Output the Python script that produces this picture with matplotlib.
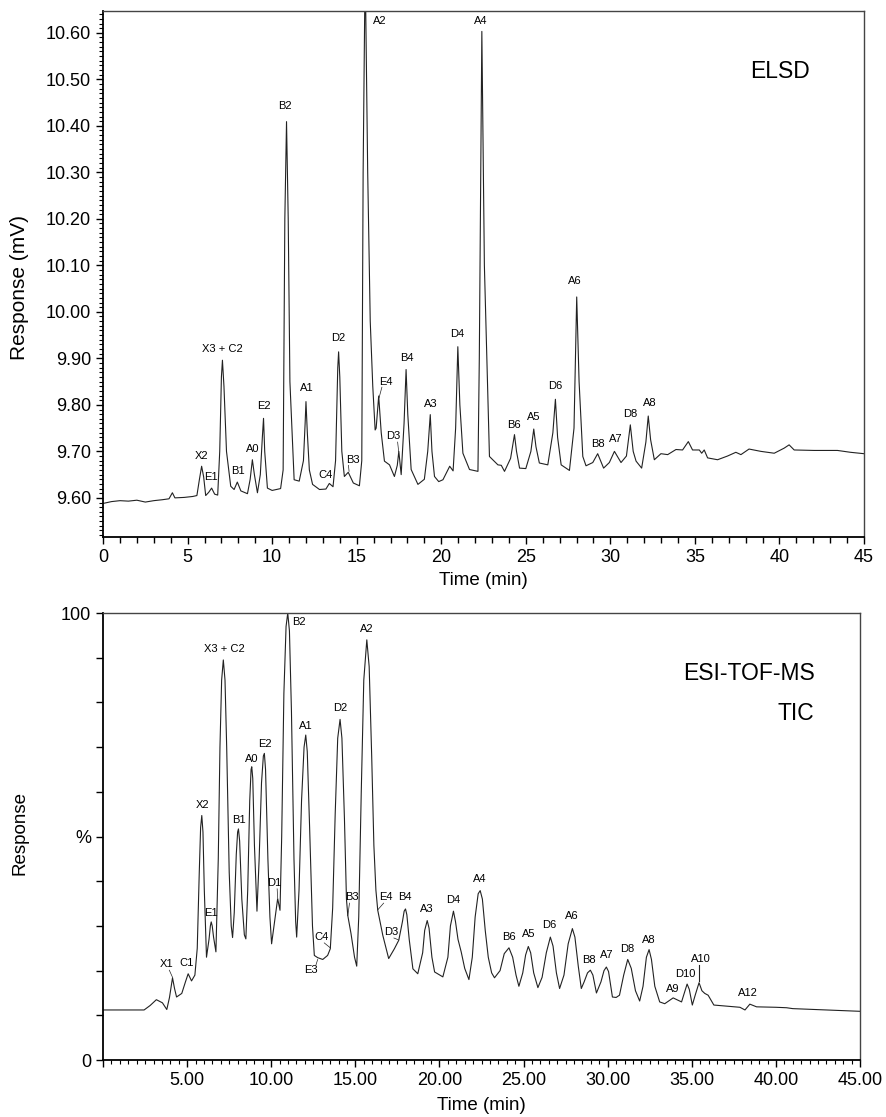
import numpy as np
import matplotlib
matplotlib.use('Agg')
import matplotlib.pyplot as plt
from matplotlib.ticker import MultipleLocator, FixedLocator, FixedFormatter

plt.rcParams['font.family'] = ['Liberation Sans', 'DejaVu Sans']

# ELSD trace (time min, response mV)
elsd_t = [0.0, 0.5, 1.0, 1.5, 2.0, 2.5, 3.0, 3.5, 3.9, 4.1, 4.25, 4.8, 5.3, 5.55, 5.7, 5.83, 5.95, 6.07,
          6.25, 6.42, 6.6, 6.78, 6.9, 7.0, 7.06, 7.15, 7.3, 7.55, 7.75, 7.94, 8.15, 8.54, 8.7, 8.83, 8.95,
          9.13, 9.3, 9.42, 9.49, 9.56, 9.72, 10.0, 10.5, 10.65, 10.75, 10.85, 10.95, 11.05, 11.3, 11.6,
          11.85, 11.95, 12.0, 12.08, 12.2, 12.39, 12.8, 13.18, 13.38, 13.6, 13.75, 13.88, 13.93, 14.0,
          14.12, 14.27, 14.5, 14.8, 15.16, 15.3, 15.38, 15.5, 15.65, 15.8, 15.95, 16.09, 16.15, 16.3,
          16.45, 16.64, 16.94, 17.23, 17.4, 17.49, 17.63, 17.8, 17.92, 18.02, 18.22, 18.62, 19.0, 19.2,
          19.35, 19.45, 19.6, 19.85, 20.1, 20.5, 20.7, 20.85, 20.98, 21.1, 21.28, 21.67, 22.17, 22.25,
          22.4, 22.55, 22.85, 23.35, 23.55, 23.74, 24.1, 24.33, 24.45, 24.63, 25.0, 25.3, 25.47, 25.6,
          25.8, 26.3, 26.6, 26.75, 26.88, 27.09, 27.58, 27.85, 28.01, 28.15, 28.37, 28.56, 28.96, 29.25,
          29.6, 29.94, 30.24, 30.63, 30.95, 31.18, 31.35, 31.52, 31.85, 32.1, 32.24, 32.38, 32.6, 32.99,
          33.39, 33.88, 34.27, 34.61, 34.86, 35.26, 35.4, 35.55, 35.75, 36.34, 36.93, 37.42, 37.72, 38.2,
          38.9, 39.69, 40.28, 40.57, 40.87, 42.05, 43.43, 44.2, 45.0]
elsd_v = [9.588, 9.592, 9.594, 9.593, 9.595, 9.591, 9.594, 9.596, 9.598, 9.611, 9.600, 9.601, 9.603,
          9.605, 9.640, 9.668, 9.645, 9.605, 9.612, 9.621, 9.608, 9.606, 9.700, 9.860, 9.896, 9.840,
          9.700, 9.625, 9.618, 9.634, 9.615, 9.609, 9.640, 9.682, 9.650, 9.611, 9.650, 9.730, 9.771,
          9.700, 9.621, 9.616, 9.620, 9.660, 10.200, 10.409, 10.200, 9.850, 9.639, 9.636, 9.680, 9.760,
          9.807, 9.740, 9.660, 9.629, 9.618, 9.619, 9.631, 9.624, 9.680, 9.880, 9.914, 9.860, 9.700,
          9.646, 9.655, 9.632, 9.626, 9.680, 10.300, 10.750, 10.300, 9.980, 9.840, 9.746, 9.750, 9.819,
          9.740, 9.679, 9.671, 9.646, 9.670, 9.700, 9.650, 9.760, 9.876, 9.780, 9.661, 9.629, 9.640,
          9.700, 9.779, 9.700, 9.646, 9.635, 9.639, 9.668, 9.658, 9.750, 9.925, 9.800, 9.696, 9.661,
          9.657, 9.900, 10.603, 10.100, 9.689, 9.671, 9.670, 9.657, 9.685, 9.736, 9.700, 9.664, 9.663,
          9.700, 9.748, 9.710, 9.675, 9.671, 9.740, 9.812, 9.730, 9.671, 9.659, 9.750, 10.032, 9.850,
          9.689, 9.669, 9.676, 9.695, 9.664, 9.676, 9.700, 9.676, 9.690, 9.757, 9.700, 9.679, 9.664,
          9.720, 9.776, 9.725, 9.682, 9.695, 9.693, 9.704, 9.703, 9.721, 9.703, 9.703, 9.696, 9.703,
          9.686, 9.682, 9.690, 9.698, 9.693, 9.705, 9.700, 9.696, 9.707, 9.714, 9.703, 9.702, 9.702,
          9.698, 9.695]

# TIC trace (time min, relative response %)
tic_t = [0.0, 2.44, 2.8, 3.17, 3.53, 3.79, 3.95, 4.13, 4.25, 4.37, 4.68, 4.9, 5.06, 5.26, 5.46,
         5.6, 5.72, 5.8, 5.87, 5.94, 6.02, 6.15,
         6.3, 6.38, 6.43, 6.49, 6.57, 6.71,
         6.85, 6.95, 7.05, 7.15, 7.25, 7.35, 7.5, 7.62, 7.7,
         7.8, 7.92, 8.0, 8.05, 8.12, 8.25, 8.4, 8.49,
         8.6, 8.72, 8.8, 8.84, 8.9, 9.0, 9.15,
         9.28, 9.42, 9.53, 9.59, 9.66, 9.8, 9.92, 10.02,
         10.2, 10.38, 10.52,
         10.62, 10.75, 10.88, 10.98, 11.08, 11.2, 11.35, 11.45, 11.51,
         11.65, 11.8, 11.95, 12.05, 12.14, 12.28, 12.45, 12.56,
         12.76, 13.06, 13.35, 13.51,
         13.65, 13.8, 13.95, 14.09, 14.2, 14.35, 14.47, 14.55, 14.74, 14.95, 15.08,
         15.2, 15.35, 15.5, 15.68, 15.82, 15.97, 16.1, 16.22, 16.33,
         16.63, 16.98, 17.32, 17.58,
         17.8, 17.9, 17.98, 18.06, 18.2, 18.42, 18.71,
         19.0, 19.12, 19.27, 19.38, 19.55, 19.71, 20.2,
         20.5, 20.65, 20.83, 20.95, 21.1, 21.29, 21.5, 21.75,
         21.95, 22.12, 22.3, 22.42, 22.55, 22.72, 22.9, 23.1, 23.27,
         23.6, 23.85, 24.13, 24.35, 24.55, 24.72,
         24.95, 25.12, 25.28, 25.42, 25.6, 25.85,
         26.1, 26.35, 26.59, 26.75, 26.95, 27.14,
         27.4, 27.65, 27.9, 28.05, 28.25, 28.43,
         28.6, 28.8, 28.97, 29.12, 29.33,
         29.6, 29.78, 29.92, 30.05, 30.18, 30.28, 30.5,
         30.7, 30.95, 31.19, 31.4, 31.65, 31.9,
         32.1, 32.3, 32.46, 32.6, 32.8, 33.09,
         33.39, 33.89, 34.39, 34.6, 34.72, 34.85, 35.03, 35.2, 35.43, 35.6, 35.77, 35.97, 36.31, 37.26,
         37.86, 38.16, 38.45, 38.85, 40.0, 40.63, 41.0, 45.0]
tic_v = [11.2, 11.2, 12.2, 13.5, 12.8, 11.3, 14.0, 18.4, 16.0, 14.1, 14.9, 17.5, 19.3, 17.7, 19.0,
         25.0, 42.0, 52.0, 54.7, 51.0, 38.0, 23.0,
         27.0, 30.0, 30.9, 30.0, 27.5, 24.2,
         45.0, 70.0, 85.0, 89.5, 85.0, 70.0, 42.0, 30.0, 27.4,
         33.0, 46.0, 51.0, 51.7, 49.0, 36.0, 28.0, 27.1,
         38.0, 58.0, 65.0, 65.6, 63.0, 48.0, 33.3,
         45.0, 62.0, 68.0, 68.6, 65.0, 45.0, 32.0, 26.0,
         31.0, 36.1, 33.5,
         50.0, 82.0, 97.0, 100.0, 96.0, 78.0, 45.0, 31.0, 27.5,
         38.0, 58.0, 70.0, 72.7, 69.0, 52.0, 30.0, 23.4,
         22.9, 22.5, 23.4, 24.9,
         34.0, 55.0, 72.0, 76.2, 72.0, 54.0, 36.0, 32.3, 28.3, 23.0, 21.0,
         32.0, 60.0, 85.0, 94.0, 88.0, 68.0, 48.0, 38.0, 33.5,
         27.9, 22.7, 24.9, 26.8,
         31.0, 33.3, 33.8, 32.5, 27.0, 20.4, 19.3,
         24.0, 29.0, 31.2, 29.5, 23.0, 19.7, 18.6,
         23.0, 30.0, 33.3, 31.0, 27.0, 24.2, 20.5, 18.0,
         23.0, 32.0, 37.2, 37.9, 36.0, 29.0, 23.0, 19.5, 18.4,
         20.0, 23.8, 25.1, 23.0, 19.0, 16.5,
         19.5, 23.5, 25.4, 24.0, 19.5, 16.2,
         18.5, 24.0, 27.5, 25.5, 19.5, 16.0,
         19.0, 26.0, 29.4, 27.5, 21.0, 16.0,
         17.5, 19.5, 20.1, 19.0, 15.0,
         17.5, 20.0, 20.8, 19.8, 16.5, 14.1, 14.0,
         14.5, 19.0, 22.5, 20.5, 15.5, 13.2,
         16.5, 23.0, 24.7, 22.5, 16.5, 13.0,
         12.6, 13.9, 13.0, 15.5, 17.0, 15.8, 12.3, 14.5, 17.3, 15.5, 14.9, 14.5, 12.3, 12.0,
         11.8, 11.2, 12.5, 11.9, 11.8, 11.7, 11.5, 10.9]

# peak labels: name, label position (t, v)
elsd_names = ['X2', 'E1', 'X3 + C2', 'B1', 'A0', 'E2', 'B2', 'A1', 'C4', 'D2', 'B3', 'A2', 'E4', 'D3',
              'B4', 'A3', 'D4', 'A4', 'B6', 'A5', 'D6', 'A6', 'B8', 'A7', 'D8', 'A8']
elsd_lt = [5.83, 6.40, 7.06, 8.0, 8.83, 9.49, 10.76, 12.06, 13.18, 13.93, 14.76, 16.34, 16.74, 17.17,
           17.96, 19.37, 20.94, 22.35, 24.29, 25.47, 26.73, 27.91, 29.25, 30.3, 31.18, 32.32]
elsd_lv = [9.691, 9.645, 9.92, 9.657, 9.706, 9.798, 10.443, 9.836, 9.650, 9.943, 9.682, 10.626, 9.850,
           9.732, 9.901, 9.802, 9.952, 10.626, 9.757, 9.774, 9.841, 10.067, 9.716, 9.726, 9.780, 9.805]
# leader lines (label name -> point on trace)
elsd_leaders = {'B3': (14.55, 9.657), 'E4': (16.32, 9.815), 'D3': (17.48, 9.70)}

tic_names = ['X1', 'C1', 'X2', 'E1', 'X3 + C2', 'B1', 'A0', 'E2', 'D1', 'B2', 'A1', 'E3', 'C4', 'D2',
             'B3', 'A2', 'E4', 'D3', 'B4', 'A3', 'D4', 'A4', 'B6', 'A5', 'D6', 'A6', 'B8', 'A7', 'D8',
             'A8', 'A9', 'D10', 'A10', 'A12']
tic_lt = [3.79, 4.96, 5.93, 6.41, 7.19, 8.07, 8.84, 9.63, 10.2, 11.67, 12.07, 12.36, 13.0, 14.09, 14.8,
          15.68, 16.83, 17.14, 17.94, 19.23, 20.83, 22.38, 24.13, 25.28, 26.55, 27.86, 28.89, 29.92,
          31.17, 32.42, 33.89, 34.64, 35.52, 38.35]
tic_lv = [21.4, 21.6, 57.0, 32.9, 92.0, 53.6, 67.4, 70.8, 39.6, 98.0, 74.8, 20.1, 27.5, 78.7, 36.4,
          96.4, 36.4, 28.6, 36.4, 33.8, 35.7, 40.5, 27.5, 28.1, 30.1, 32.3, 22.3, 23.4, 24.8, 26.9, 15.8,
          19.3, 22.5, 15.0]
tic_leaders = {'X1': (4.13, 18.2), 'D1': (10.38, 36.0), 'E3': (12.76, 22.8), 'C4': (13.51, 24.8),
               'B3': (14.55, 32.0), 'E4': (16.33, 33.3), 'D3': (17.55, 26.6), 'A10': (35.43, 17.4)}

fig = plt.figure(figsize=(8.86, 11.17), dpi=100)
ax1 = fig.add_axes([0.1163, 0.5193, 0.8589, 0.4709])
ax2 = fig.add_axes([0.1163, 0.0510, 0.8544, 0.4002])

lc = '#222222'
ax1.plot(elsd_t, elsd_v, color=lc, lw=0.8)
ax2.plot(tic_t, tic_v, color=lc, lw=0.8)

# top panel
ax1.set_xlim(0, 45)
ax1.set_ylim(9.516, 10.647)
ax1.xaxis.set_major_locator(MultipleLocator(5))
ax1.xaxis.set_minor_locator(MultipleLocator(1))
ax1.yaxis.set_major_locator(MultipleLocator(0.1))
ax1.yaxis.set_minor_locator(MultipleLocator(0.01))
ax1.yaxis.set_major_formatter(matplotlib.ticker.FormatStrFormatter('%.2f'))
ax1.tick_params(axis='both', which='major', labelsize=13, length=5, width=1.0, direction='out')
ax1.tick_params(axis='x', which='minor', length=4, width=1.0, direction='out')
ax1.tick_params(axis='y', which='minor', length=3, width=0.8, direction='out')
ax1.set_xlabel('Time (min)', fontsize=13.5)
ax1.set_ylabel('Response (mV)', fontsize=15)
ax1.xaxis.set_label_coords(0.5, -0.067)
ax1.yaxis.set_label_coords(-0.097, 0.474)
ax1.text(41.8, 10.517, 'ELSD', fontsize=16.5, ha='right', va='center')

for name, t, v in zip(elsd_names, elsd_lt, elsd_lv):
    ax1.text(t, v, name, fontsize=8, ha='center', va='center')
    if name in elsd_leaders:
        px, py = elsd_leaders[name]
        ax1.plot([t - 0.25 * np.sign(t - px), px], [v - 0.012, py], color=lc, lw=0.5)

# bottom panel
ax2.set_xlim(0, 45)
ax2.set_ylim(0, 100)
ax2.xaxis.set_major_locator(MultipleLocator(5))
ax2.xaxis.set_minor_locator(MultipleLocator(0.5))
ax2.xaxis.set_major_formatter(matplotlib.ticker.FuncFormatter(lambda x, p: '' if x == 0 else '%.2f' % x))
ax2.yaxis.set_major_locator(FixedLocator([0, 50, 100]))
ax2.yaxis.set_major_formatter(FixedFormatter(['0', '%', '100']))
ax2.yaxis.set_minor_locator(MultipleLocator(10))
ax2.tick_params(axis='both', which='major', labelsize=13, length=5, width=1.0, direction='out')
ax2.tick_params(axis='x', which='minor', length=3, width=0.8, direction='out')
ax2.tick_params(axis='y', which='minor', length=5, width=1.0, direction='out')
ax2.set_xlabel('Time (min)', fontsize=13.5)
ax2.set_ylabel('Response', fontsize=13.5)
ax2.xaxis.set_label_coords(0.5, -0.083)
ax2.yaxis.set_label_coords(-0.099, 0.507)
ax2.text(42.3, 86.4, 'ESI-TOF-MS', fontsize=16.5, ha='right', va='center')
ax2.text(42.3, 77.6, 'TIC', fontsize=16.5, ha='right', va='center')

for name, t, v in zip(tic_names, tic_lt, tic_lv):
    ax2.text(t, v, name, fontsize=8, ha='center', va='center')
    if name in tic_leaders:
        px, py = tic_leaders[name]
        if name == 'A10':
            ax2.plot([px, px], [v - 1.2, py + 0.3], color=lc, lw=0.8)
        elif py < v:
            ax2.plot([t + 0.15 * np.sign(px - t), px], [v - 1.3, py + 0.3], color=lc, lw=0.5)
        else:
            ax2.plot([t + 0.3 * np.sign(px - t), px], [v + 1.2, py - 0.3], color=lc, lw=0.5)

for ax in (ax1, ax2):
    ax.spines['left'].set_linewidth(1.3)
    ax.spines['bottom'].set_linewidth(1.3)
    ax.spines['top'].set_color('#444444')
    ax.spines['right'].set_color('#444444')
    ax.spines['top'].set_linewidth(1.0)
    ax.spines['right'].set_linewidth(1.0)

fig.savefig('out.png', dpi=100)
